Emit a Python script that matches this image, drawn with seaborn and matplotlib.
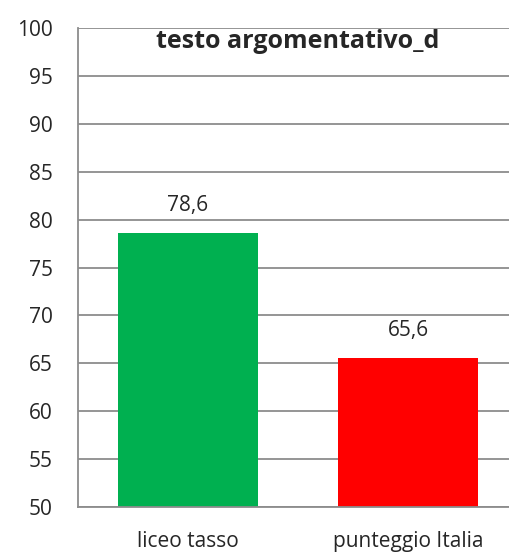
import numpy as np
import pandas as pd
import matplotlib
matplotlib.use('Agg')
import matplotlib.pyplot as plt
import seaborn as sns

categories = ['liceo tasso', 'punteggio Italia']
values = [78.6, 65.6]
value_labels = ['78,6', '65,6']
bar_colors = ['#00B050', '#FF0000']
yticks = [50, 55, 60, 65, 70, 75, 80, 85, 90, 95, 100]

sns.set_style('white')
plt.rcParams['font.family'] = ['Open Sans', 'DejaVu Sans']

df = pd.DataFrame({'cat': categories, 'val': values})

fig = plt.figure(figsize=(5.1, 5.55), dpi=100)
ax = fig.add_axes([78/510, 48/555, 440/510, 479/555])

sns.barplot(data=df, x='cat', y='val', hue='cat', palette=bar_colors,
            width=0.636, legend=False, ax=ax, saturation=1, linewidth=0)

ax.set_ylim(50, 100)
ax.set_xlim(-0.5, 1.5)
ax.set_yticks(yticks)
ax.set_yticklabels([str(t) for t in yticks], fontsize=15)
ax.yaxis.grid(True, color='#8c8c8c', linewidth=1.3)
ax.set_axisbelow(True)

ax.set_xticks([-0.5, 0.5, 1.5])
ax.set_xticklabels([])
ax.tick_params(axis='x', length=6, width=1.3, color='#8c8c8c', direction='out')
ax.tick_params(axis='y', length=6, width=1.3, color='#8c8c8c', direction='out', pad=12)
for i, c in enumerate(categories):
    ax.text(i, -0.05, c, transform=ax.get_xaxis_transform(), ha='center', va='top', fontsize=15)

ax.set_xlabel('')
ax.set_ylabel('')
for s in ['top', 'right']:
    ax.spines[s].set_visible(False)
for s in ['left', 'bottom']:
    ax.spines[s].set_color('#8c8c8c')
    ax.spines[s].set_linewidth(1.3)

for i, (v, lab) in enumerate(zip(values, value_labels)):
    ax.annotate(lab, (i, v), xytext=(0, 12), textcoords='offset points',
                ha='center', va='bottom', fontsize=15)

ax.text(0.5, 0.997, 'testo argomentativo_d', transform=ax.transAxes,
        ha='center', va='top', fontsize=18, fontweight='bold')

fig.savefig('out.png', dpi=100)
